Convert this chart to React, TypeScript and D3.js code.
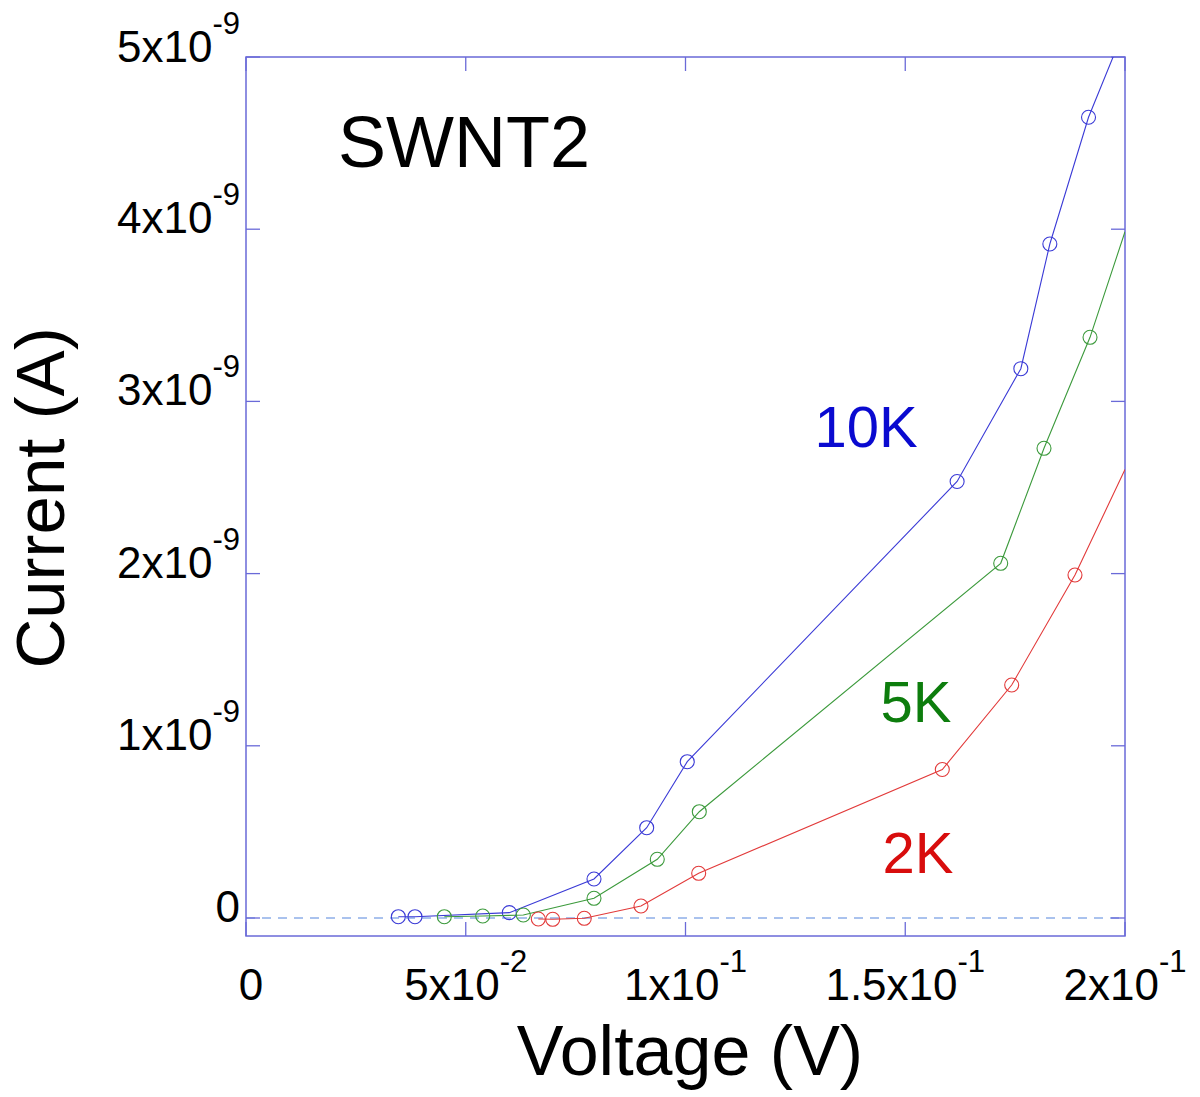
import React from "react";
import * as d3 from "d3";

const blueX = [0.03466, 0.03845, 0.05991, 0.07918, 0.09117, 0.1004, 0.1618, 0.1763, 0.1829, 0.1917, 0.2];
const blueY = [0.0075, 0.0075, 0.031, 0.2265, 0.5244, 0.9077, 2.535, 3.19, 3.914, 4.65, 5.17];
const greenX = [0.04512, 0.05386, 0.0631, 0.07918, 0.09358, 0.10314, 0.17172, 0.18157, 0.19204, 0.2];
const greenY = [0.0075, 0.0116, 0.0174, 0.1144, 0.3409, 0.6173, 2.0598, 2.7276, 3.3722, 3.985];
const redX = [0.06651, 0.06979, 0.07697, 0.08987, 0.103, 0.15843, 0.17422, 0.18862, 0.2];
const redY = [-0.0058, -0.0075, -0.0017, 0.0697, 0.2596, 0.8624, 1.3531, 1.9919, 2.604];
// number of measured points (the last entry of each is the line leaving the frame)
const measured = { blue: 10, green: 9, red: 8 };

const xTicks = [0, 0.05, 0.1, 0.15, 0.2];
const xTickMant = ["0", "5x10", "1x10", "1.5x10", "2x10"];
const xTickExp = ["", "-2", "-1", "-1", "-1"];
const yTicks = [0, 1, 2, 3, 4, 5]; // x 1e-9
const yTickMant = ["0", "1x10", "2x10", "3x10", "4x10", "5x10"];
const yTickExp = ["", "-9", "-9", "-9", "-9", "-9"];

const W = 1200, H = 1097;
const L = 246, R = 1125, T = 57, B = 936;
const FONT = "'Liberation Sans', Arial, sans-serif";
const FRAME = "#6a6ad8";

export default function App() {
  const x = d3.scaleLinear().domain([0, 0.2]).range([L, R]);
  const y = d3.scaleLinear().domain([0, 5]).range([918, T]);
  const line = d3.line<[number, number]>().x(d => x(d[0])).y(d => y(d[1]));

  const series = [
    { xs: blueX, ys: blueY, n: measured.blue, color: "#3a3ad6", label: "10K", lc: "#0a0ad0", lx: 866, ly: 447 },
    { xs: greenX, ys: greenY, n: measured.green, color: "#3c9a3c", lc: "#0d7d0d", label: "5K", lx: 916, ly: 722 },
    { xs: redX, ys: redY, n: measured.red, color: "#e23a3a", lc: "#d80d0d", label: "2K", lx: 918, ly: 873 },
  ];

  const tickLen = 14;

  return (
    <svg width={W} height={H} style={{ position: "absolute", left: 0, top: 0, background: "#fff" }} fontFamily={FONT}>
      <defs>
        <clipPath id="plot">
          <rect x={L} y={T} width={R - L} height={B - T} />
        </clipPath>
      </defs>
      <rect x={0} y={0} width={W} height={H} fill="#fff" />
      {/* zero dashed line */}
      <line x1={L} x2={R} y1={y(0)} y2={y(0)} stroke="#5585dc" strokeWidth={1} strokeDasharray="9,7" />
      {/* frame */}
      <rect x={L} y={T} width={R - L} height={B - T} fill="none" stroke={FRAME} strokeWidth={1.5} />
      {xTicks.map((t, i) => (
        <g key={"xt" + i}>
          <line x1={x(t)} x2={x(t)} y1={B} y2={B - tickLen} stroke={FRAME} strokeWidth={1.3} />
          <line x1={x(t)} x2={x(t)} y1={T} y2={T + tickLen} stroke={FRAME} strokeWidth={1.3} />
          <text x={x(t) + (i === 0 ? 5 : 0)} y={1000} textAnchor="middle" fontSize={44} fill="#000">
            {xTickMant[i]}
            {xTickExp[i] && <tspan fontSize={31} dy={-28}>{xTickExp[i]}</tspan>}
          </text>
        </g>
      ))}
      {yTicks.map((t, i) => (
        <g key={"yt" + i}>
          <line x1={L} x2={L + tickLen} y1={y(t)} y2={y(t)} stroke={FRAME} strokeWidth={1.3} />
          <line x1={R} x2={R - tickLen} y1={y(t)} y2={y(t)} stroke={FRAME} strokeWidth={1.3} />
          <text x={240} y={y(t) + (i === 5 ? 5 : 4)} textAnchor="end" fontSize={44} fill="#000">
            {yTickMant[i]}
            {yTickExp[i] && <tspan fontSize={31} dy={-28}>{yTickExp[i]}</tspan>}
          </text>
        </g>
      ))}
      <g clipPath="url(#plot)">
        {series.map((s, si) => {
          const pts: [number, number][] = s.xs.map((v, i) => [v, s.ys[i]]);
          return (
            <g key={"s" + si}>
              <path d={line(pts) || ""} fill="none" stroke={s.color} strokeWidth={1.1} />
              {pts.slice(0, s.n).map((p, i) => (
                <circle key={i} cx={x(p[0])} cy={y(p[1])} r={7} fill="none" stroke={s.color} strokeWidth={1.1} />
              ))}
            </g>
          );
        })}
      </g>
      {series.map((s, si) => (
        <text key={"l" + si} x={s.lx} y={s.ly} textAnchor="middle" fontSize={58} fill={s.lc}>{s.label}</text>
      ))}
      <text x={464} y={167} textAnchor="middle" fontSize={72} fill="#000">SWNT2</text>
      <text x={690} y={1075} textAnchor="middle" fontSize={70} fill="#000">Voltage (V)</text>
      <text transform={`translate(64,498) rotate(-90)`} textAnchor="middle" fontSize={69} fill="#000">Current (A)</text>
    </svg>
  );
}
